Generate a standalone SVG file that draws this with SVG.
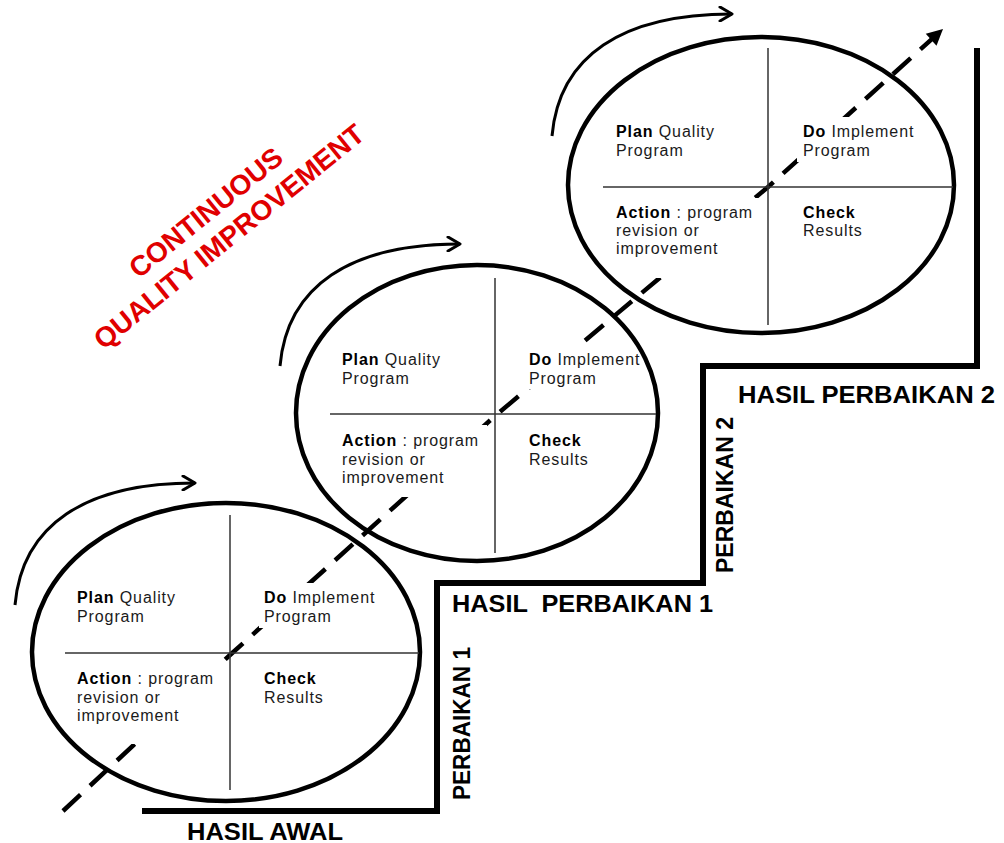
<svg xmlns="http://www.w3.org/2000/svg" width="1004" height="843" viewBox="0 0 1004 843">
  <style>
    .ring { fill: none; stroke: #000; stroke-width: 4.5; }
    .cross { stroke: #333; stroke-width: 1.5; fill: none; }
    .pad { fill: #fff; stroke: none; }
    .cycle { fill: none; stroke: #000; stroke-width: 3; }
    .txt { font-family: "Liberation Sans", Arial, sans-serif; font-size: 16px; fill: #1a1a1a; letter-spacing: 0.9px; }
    .b { font-weight: bold; fill: #000; }
    .lbl { font-family: "Liberation Sans", Arial, sans-serif; font-size: 23px; font-weight: bold; fill: #000; }
    .red { font-family: "Liberation Sans", Arial, sans-serif; font-size: 28px; font-weight: bold; fill: #e00000; text-anchor: middle; }
  </style>
  <defs>
    <marker id="chev" viewBox="0 0 16 16" refX="14" refY="8" markerWidth="16" markerHeight="16" markerUnits="userSpaceOnUse" orient="auto">
      <path d="M2,1 L14,8 L2,15" fill="none" stroke="#000" stroke-width="3" stroke-linecap="round" stroke-linejoin="round"/>
    </marker>
    <marker id="tri" viewBox="0 0 20 20" refX="18" refY="10" markerWidth="20" markerHeight="20" markerUnits="userSpaceOnUse" orient="auto">
      <path d="M2,2 L18,10 L2,18 Z" fill="#000"/>
    </marker>
    <path id="arcShape" d="M0,0 C7,-80 70,-122 180,-122"/>
  </defs>

  <rect width="1004" height="843" fill="#fff"/>

  <!-- staircase of results -->
  <path d="M142,811 H437 V583 H703 V366 H977 V48" fill="none" stroke="#000" stroke-width="6"/>

  <!-- cycle arrows and improvement trend -->
  <g id="connectors">
    <use href="#arcShape" class="cycle" transform="translate(15,605)" marker-end="url(#chev)"/>
    <use href="#arcShape" class="cycle" transform="translate(280,366)" marker-end="url(#chev)"/>
    <use href="#arcShape" class="cycle" transform="translate(552,136)" marker-end="url(#chev)"/>
    <path d="M63,811 L230,655 L495,416 L768,187 L943,29" fill="none" stroke="#000" stroke-width="4.5" stroke-dasharray="24 13" marker-end="url(#tri)"/>
  </g>

  <!-- stage 1 -->
  <g id="pdca-1">
    <rect class="pad" x="259" y="583" width="118" height="45"/>
    <rect class="pad" x="72" y="664" width="150" height="80"/>
    <ellipse class="ring" cx="226" cy="652" rx="194" ry="149"/>
    <line class="cross" x1="230" y1="515" x2="230" y2="790"/>
    <line class="cross" x1="65" y1="653" x2="419" y2="653"/>
    <text class="txt" x="77" y="603"><tspan class="b">Plan</tspan> Quality</text>
    <text class="txt" x="77" y="622">Program</text>
    <text class="txt" x="77" y="684"><tspan class="b">Action</tspan> : program</text>
    <text class="txt" x="77" y="703">revision or</text>
    <text class="txt" x="77" y="721">improvement</text>
    <text class="txt" x="264" y="603"><tspan class="b">Do</tspan> Implement</text>
    <text class="txt" x="264" y="622">Program</text>
    <text class="txt b" x="264" y="684">Check</text>
    <text class="txt" x="264" y="703">Results</text>
  </g>

  <!-- stage 2 -->
  <g id="pdca-2">
    <rect class="pad" x="524" y="344" width="118" height="45"/>
    <rect class="pad" x="337" y="425" width="150" height="72"/>
    <ellipse class="ring" cx="477" cy="413" rx="181" ry="148"/>
    <line class="cross" x1="495" y1="278" x2="495" y2="553"/>
    <line class="cross" x1="330" y1="414" x2="656" y2="414"/>
    <text class="txt" x="342" y="365"><tspan class="b">Plan</tspan> Quality</text>
    <text class="txt" x="342" y="384">Program</text>
    <text class="txt" x="342" y="446"><tspan class="b">Action</tspan> : program</text>
    <text class="txt" x="342" y="465">revision or</text>
    <text class="txt" x="342" y="483">improvement</text>
    <text class="txt" x="529" y="365"><tspan class="b">Do</tspan> Implement</text>
    <text class="txt" x="529" y="384">Program</text>
    <text class="txt b" x="529" y="446">Check</text>
    <text class="txt" x="529" y="465">Results</text>
  </g>

  <!-- stage 3 -->
  <g id="pdca-3">
    <rect class="pad" x="797" y="117" width="120" height="45"/>
    <rect class="pad" x="610" y="198" width="149" height="80"/>
    <ellipse class="ring" cx="761" cy="185" rx="193" ry="148"/>
    <line class="cross" x1="768" y1="48" x2="768" y2="325"/>
    <line class="cross" x1="603" y1="187" x2="953" y2="187"/>
    <text class="txt" x="616" y="137"><tspan class="b">Plan</tspan> Quality</text>
    <text class="txt" x="616" y="156">Program</text>
    <text class="txt" x="616" y="218"><tspan class="b">Action</tspan> : program</text>
    <text class="txt" x="616" y="236">revision or</text>
    <text class="txt" x="616" y="254">improvement</text>
    <text class="txt" x="803" y="137"><tspan class="b">Do</tspan> Implement</text>
    <text class="txt" x="803" y="156">Program</text>
    <text class="txt b" x="803" y="218">Check</text>
    <text class="txt" x="803" y="236">Results</text>
  </g>

  <!-- result levels -->
  <g id="labels">
    <text class="lbl" x="187" y="840" textLength="156" lengthAdjust="spacingAndGlyphs">HASIL AWAL</text>
    <text class="lbl" x="452" y="612" textLength="261" lengthAdjust="spacingAndGlyphs" xml:space="preserve">HASIL  PERBAIKAN 1</text>
    <text class="lbl" x="738" y="403" textLength="257" lengthAdjust="spacingAndGlyphs">HASIL PERBAIKAN 2</text>
    <text class="lbl" transform="translate(470,800) rotate(-90)" textLength="153" lengthAdjust="spacingAndGlyphs">PERBAIKAN 1</text>
    <text class="lbl" transform="translate(733,573) rotate(-90)" textLength="156" lengthAdjust="spacingAndGlyphs">PERBAIKAN 2</text>
  </g>

  <!-- title -->
  <g id="title">
    <text class="red" transform="translate(212,220) rotate(-39)">CONTINUOUS</text>
    <text class="red" transform="translate(235,244) rotate(-39)">QUALITY IMPROVEMENT</text>
  </g>
</svg>
